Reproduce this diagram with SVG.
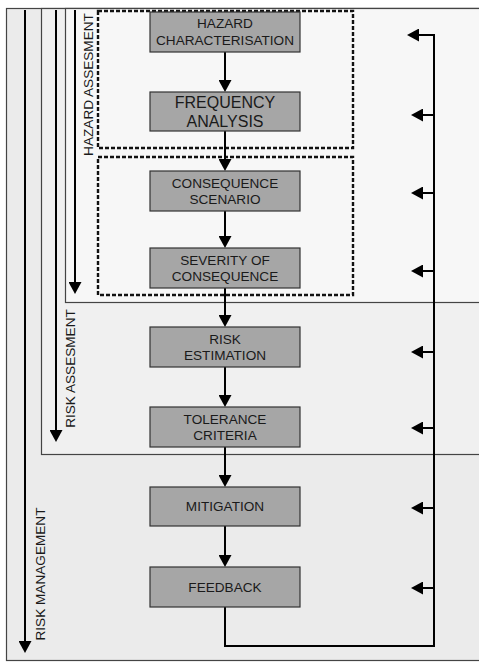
<svg xmlns="http://www.w3.org/2000/svg" width="479" height="662" viewBox="0 0 479 662">
<style>
.frame{stroke:#444;stroke-width:1.2}
.box rect{fill:#a6a6a6;stroke:#333;stroke-width:1.2}
.box text{font-family:"Liberation Sans",Arial,sans-serif;font-size:13.6px;fill:#1a1a1a;text-anchor:middle}
.lbl{font-family:"Liberation Sans",Arial,sans-serif;font-size:13.6px;fill:#1a1a1a;text-anchor:middle}
.dash{fill:none;stroke:#111;stroke-width:2.4;stroke-dasharray:4 2}
.ln{fill:none;stroke:#000;stroke-width:2}
</style>
<defs>
<marker id="ah" markerUnits="userSpaceOnUse" markerWidth="13" markerHeight="13" refX="9" refY="6.5" orient="auto">
<path d="M0,0 L12,6.5 L0,13 z" fill="#000"/>
</marker>
</defs>
<rect x="0" y="0" width="479" height="662" fill="#fff"/>
<g id="risk-management-frame">
<rect class="frame" x="6.5" y="8.5" width="480" height="652" fill="#ebebeb"/>
</g>
<g id="risk-assessment-frame">
<rect class="frame" x="41.5" y="8.5" width="445" height="446" fill="#f0f0f0"/>
</g>
<g id="hazard-assessment-frame">
<rect class="frame" x="65.5" y="8.5" width="421" height="294" fill="#f7f7f7"/>
</g>
<g id="dashed-groups">
<rect class="dash" x="98" y="11" width="255" height="137"/>
<rect class="dash" x="98" y="157" width="255" height="138"/>
</g>
<g id="side-labels">
<text class="lbl" transform="translate(93,84.5) rotate(-90)">HAZARD ASSESMENT</text>
<text class="lbl" transform="translate(75,368.5) rotate(-90)">RISK ASSESMENT</text>
<text class="lbl" transform="translate(45,574) rotate(-90)">RISK MANAGEMENT</text>
</g>
<g id="connectors">
<line class="ln" x1="75" y1="10" x2="75" y2="291" marker-end="url(#ah)"/>
<line class="ln" x1="56" y1="10" x2="56" y2="439" marker-end="url(#ah)"/>
<line class="ln" x1="25" y1="10" x2="25" y2="650" marker-end="url(#ah)"/>
<line class="ln" x1="225" y1="52" x2="225" y2="89" marker-end="url(#ah)"/>
<line class="ln" x1="225" y1="131" x2="225" y2="168" marker-end="url(#ah)"/>
<line class="ln" x1="225" y1="211" x2="225" y2="245" marker-end="url(#ah)"/>
<line class="ln" x1="225" y1="288" x2="225" y2="324" marker-end="url(#ah)"/>
<line class="ln" x1="225" y1="367" x2="225" y2="404" marker-end="url(#ah)"/>
<line class="ln" x1="225" y1="447" x2="225" y2="484" marker-end="url(#ah)"/>
<line class="ln" x1="225" y1="526" x2="225" y2="564" marker-end="url(#ah)"/>
<path class="ln" d="M225,607 V646 H434 V34"/>
<line class="ln" x1="434" y1="35" x2="410" y2="35" marker-end="url(#ah)"/>
<line class="ln" x1="434" y1="115" x2="414" y2="115" marker-end="url(#ah)"/>
<line class="ln" x1="434" y1="193" x2="414" y2="193" marker-end="url(#ah)"/>
<line class="ln" x1="434" y1="271" x2="414" y2="271" marker-end="url(#ah)"/>
<line class="ln" x1="434" y1="352" x2="414" y2="352" marker-end="url(#ah)"/>
<line class="ln" x1="434" y1="428" x2="414" y2="428" marker-end="url(#ah)"/>
<line class="ln" x1="434" y1="508" x2="414" y2="508" marker-end="url(#ah)"/>
<line class="ln" x1="434" y1="588" x2="414" y2="588" marker-end="url(#ah)"/>
</g>
<g id="hazard-characterisation" class="box">
<rect x="150" y="12" width="150" height="40"/>
<text x="225" y="28">HAZARD</text>
<text x="225" y="45">CHARACTERISATION</text>
</g>
<g id="frequency-analysis" class="box">
<rect x="150" y="92" width="150" height="39"/>
<text x="225" y="108" style="font-size:16px">FREQUENCY</text>
<text x="225" y="127" style="font-size:16px">ANALYSIS</text>
</g>
<g id="consequence-scenario" class="box">
<rect x="150" y="171" width="150" height="40"/>
<text x="225" y="188">CONSEQUENCE</text>
<text x="225" y="204">SCENARIO</text>
</g>
<g id="severity-of-consequence" class="box">
<rect x="150" y="248" width="150" height="40"/>
<text x="225" y="265">SEVERITY OF</text>
<text x="225" y="281">CONSEQUENCE</text>
</g>
<g id="risk-estimation" class="box">
<rect x="150" y="327" width="150" height="40"/>
<text x="225" y="344">RISK</text>
<text x="225" y="360">ESTIMATION</text>
</g>
<g id="tolerance-criteria" class="box">
<rect x="150" y="407" width="150" height="40"/>
<text x="225" y="424">TOLERANCE</text>
<text x="225" y="440">CRITERIA</text>
</g>
<g id="mitigation" class="box">
<rect x="150" y="487" width="150" height="39"/>
<text x="225" y="511">MITIGATION</text>
</g>
<g id="feedback" class="box">
<rect x="150" y="567" width="150" height="40"/>
<text x="225" y="592">FEEDBACK</text>
</g>
</svg>
